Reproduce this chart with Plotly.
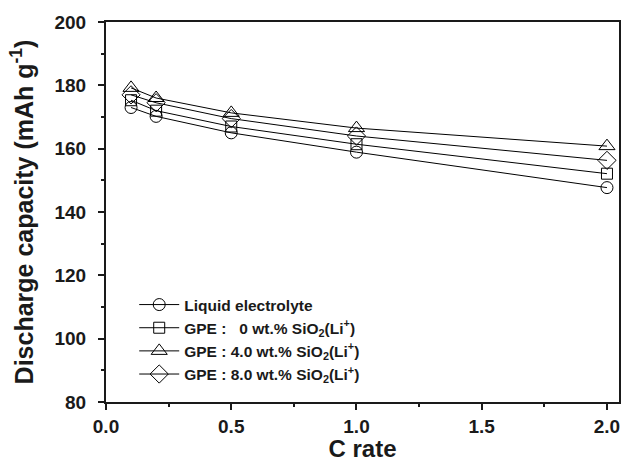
import plotly.graph_objects as go

c_rate = [0.1, 0.2, 0.5, 1.0, 2.0]
liquid = [173.0, 170.2, 165.0, 158.9, 147.7]
gpe_0 = [175.3, 172.0, 167.0, 161.4, 152.1]
gpe_4 = [179.2, 176.0, 171.3, 166.5, 160.8]
gpe_8 = [177.0, 174.5, 169.5, 164.0, 156.3]

names = [
    "Liquid electrolyte",
    "GPE :\u00a0\u00a0\u00a00 wt.% SiO<sub>2</sub>(Li<sup>+</sup>)",
    "GPE : 4.0 wt.% SiO<sub>2</sub>(Li<sup>+</sup>)",
    "GPE : 8.0 wt.% SiO<sub>2</sub>(Li<sup>+</sup>)",
]
series = [liquid, gpe_0, gpe_4, gpe_8]
symbols = ["circle-open", "square-open", "triangle-up-open", "diamond-open"]
sizes = [12, 11, 14, 14]

font_family = "Liberation Sans, Arial, sans-serif"
ink = "#1a1a1a"

fig = go.Figure()
for nm, ys, sym, sz in zip(names, series, symbols, sizes):
    fig.add_trace(go.Scatter(
        x=c_rate, y=ys, name=nm, mode="lines+markers",
        line=dict(color="black", width=1),
        marker=dict(symbol=sym, size=sz, color="black", line=dict(color="black", width=1)),
    ))

axis_common = dict(
    showline=True, linecolor=ink, linewidth=2, mirror=True,
    ticks="outside", ticklen=6, tickwidth=2, tickcolor=ink,
    showgrid=False, zeroline=False,
    tickfont=dict(family=font_family, size=19, color=ink, weight="bold"),
)

fig.update_layout(
    width=625, height=462,
    margin=dict(l=106, r=4, t=22, b=60),
    paper_bgcolor="white", plot_bgcolor="white",
    font=dict(family=font_family, color=ink),
    showlegend=True,
    legend=dict(
        x=0.055, y=0.30, xanchor="left", yanchor="top",
        bgcolor="rgba(0,0,0,0)", borderwidth=0,
        font=dict(family=font_family, size=15.5, color=ink, weight="bold"),
        tracegroupgap=0, itemwidth=40,
    ),
    xaxis=dict(
        range=[0, 2.048], tickmode="linear", tick0=0, dtick=0.5,
        tickformat=".1f",
        minor=dict(dtick=0.25, ticks="outside", ticklen=3, tickwidth=2, tickcolor=ink),
        title=dict(text="<b>C rate</b>", font=dict(family=font_family, size=24, color=ink), standoff=0),
        **axis_common,
    ),
    yaxis=dict(
        range=[80, 200], tickmode="linear", tick0=80, dtick=20,
        ticklabelstandoff=8,
        minor=dict(dtick=10, ticks="outside", ticklen=3, tickwidth=2, tickcolor=ink),
        title=dict(text="<b>Discharge capacity (mAh g<sup>-1</sup>)</b>", font=dict(family=font_family, size=25, color=ink), standoff=14),
        **axis_common,
    ),
)

fig.write_html("out.html", config={"displayModeBar": False},
               post_script="document.body.style.margin='0';")
